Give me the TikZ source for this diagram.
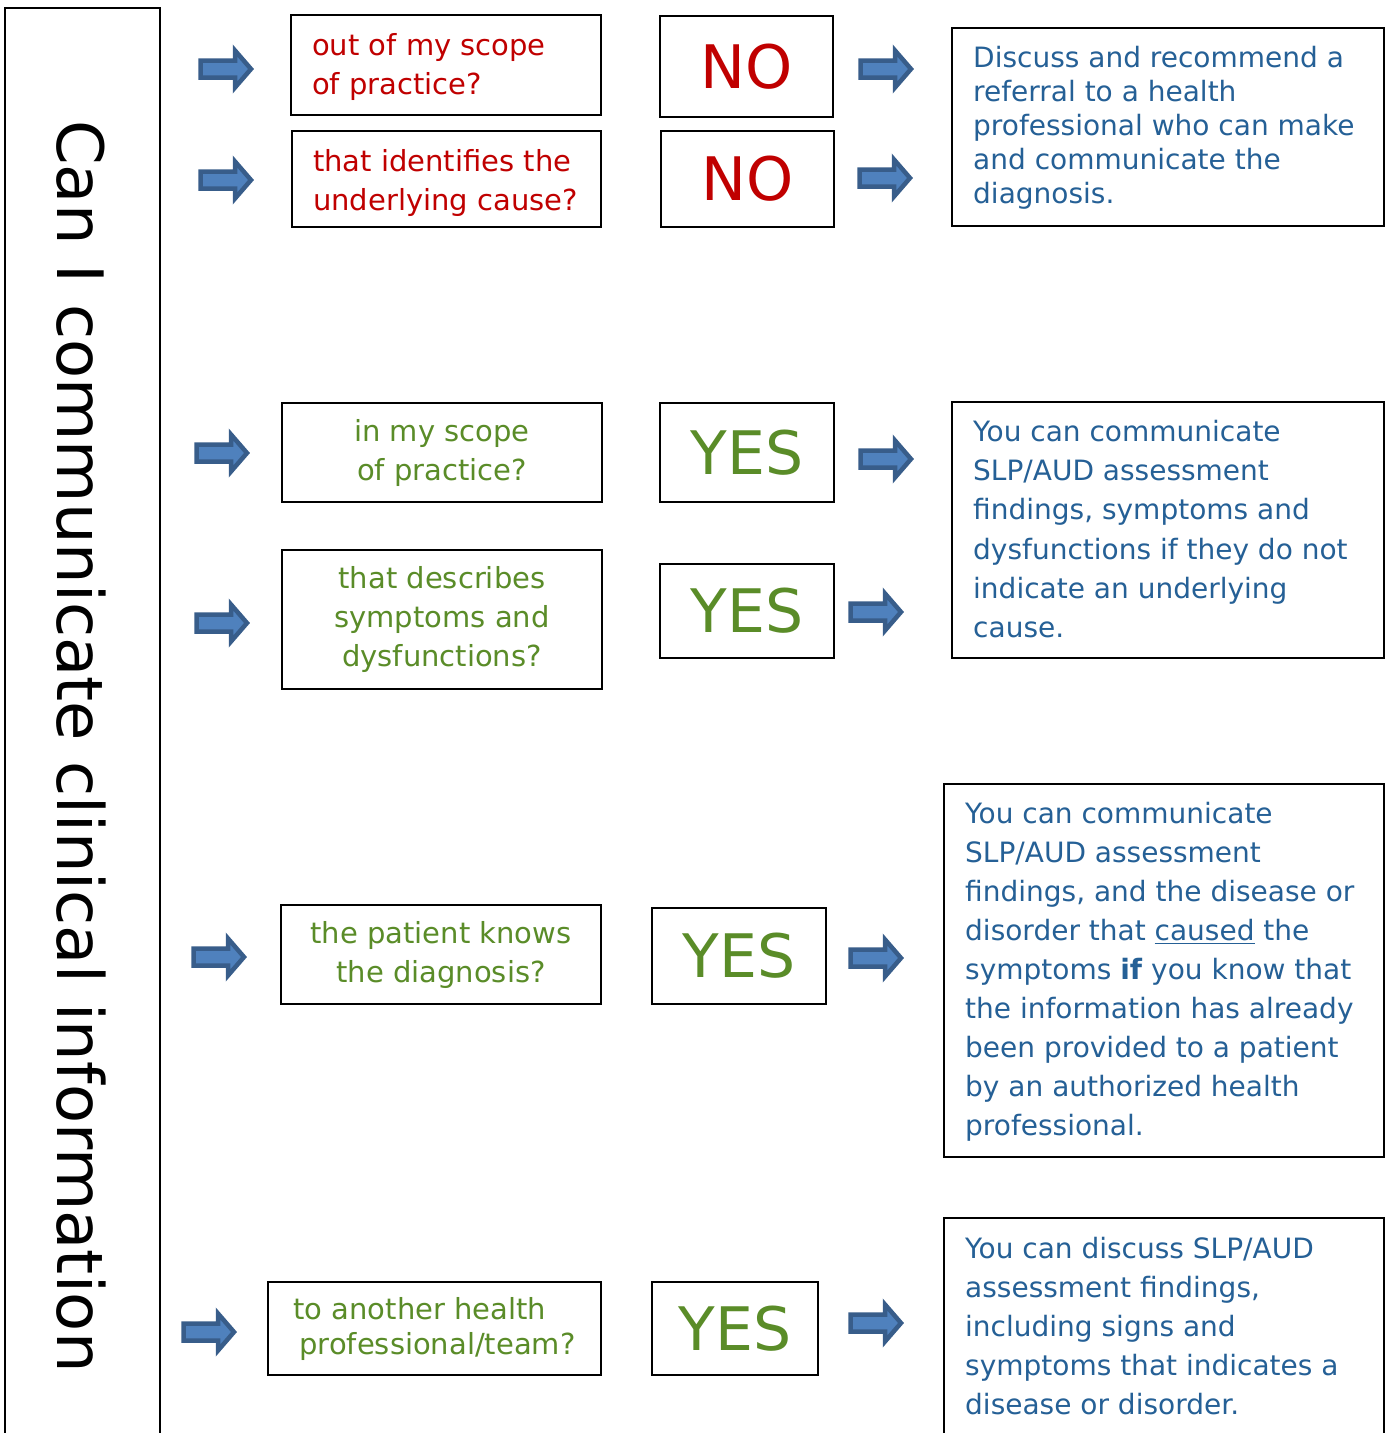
\documentclass[tikz,border=0pt]{standalone}
\usepackage{fontspec}
\setmainfont{DejaVu Sans}
\definecolor{qred}{HTML}{C00000}
\definecolor{qgreen}{HTML}{5A8C28}
\definecolor{tblue}{HTML}{256096}
\definecolor{arrfill}{HTML}{4F81BD}
\definecolor{arrline}{HTML}{385D8A}
\newcommand\myul[1]{\setbox0\hbox{#1}\rlap{\rule[-4pt]{\wd0}{1.8pt}}\box0\relax}
\begin{document}
\begin{tikzpicture}[x=1pt,y=-1pt,
  box/.style={draw=black, line width=2pt, inner sep=0pt},
  qtext/.style={inner sep=0pt, align=left, font=\fontsize{29}{39}\selectfont},
  gbox/.style={box, text=qgreen, align=center, font=\fontsize{29}{39}\selectfont},
  ansbox/.style={box, font=\fontsize{60}{60}\selectfont},
  rtext/.style={inner sep=0pt, align=left, text=tblue, anchor=north west},
  arrowline/.style={draw=arrline, fill=arrfill, line width=4.5pt, line join=miter},
  barrow/.pic={\path[arrowline] (2.5,-8.5) -- (37,-8.5) -- (37,-18.5) -- (53,0) -- (37,18.5) -- (37,8.5) -- (2.5,8.5) -- cycle;}
]
\useasboundingbox (0,0) rectangle (1387,1433);
\clip (0,0) rectangle (1387,1433);
\fill[white] (0,0) rectangle (1387,1433);

% title column
\node[box, minimum width=155, minimum height=1452] (tb) at (82.5,734) {};
\node[rotate=-90, anchor=base west, inner sep=0pt, font=\fontsize{64}{64}\selectfont] (title) at (57,120) {Can I communicate clinical information};

% questions
\node[box, minimum width=310, minimum height=100] (q1) at (446,65) {};
\node[qtext, text=qred, anchor=north west] (q1t) at (312,33) {out of my scope\\of practice?};
\node[box, minimum width=309, minimum height=96] (q2) at (446.5,179) {};
\node[qtext, text=qred, anchor=north west] (q2t) at (313,149) {that identifies the\\underlying cause?};
\node[gbox, minimum width=320, minimum height=99] (q3) at (442,452.5) {in my scope\\of practice?};
\node[gbox, minimum width=320, minimum height=139] (q4) at (442,619.5) {that describes\\symptoms and\\dysfunctions?};
\node[gbox, minimum width=320, minimum height=99] (q5) at (441,954.5) {the patient knows\\the diagnosis?};
\node[gbox, align=left, font=\fontsize{29}{35}\selectfont, minimum width=333, minimum height=93] (q6) at (434.5,1328.5) {to another health\\\hspace*{6pt}professional/team?};

% answers
\node[ansbox, text=qred, minimum width=173, minimum height=101] (a1) at (746.5,66.5) {NO};
\node[ansbox, text=qred, minimum width=173, minimum height=96] (a2) at (747.5,179) {NO};
\node[ansbox, text=qgreen, minimum width=174, minimum height=99] (a3) at (747,452.5) {YES};
\node[ansbox, text=qgreen, minimum width=174, minimum height=94] (a4) at (747,611) {YES};
\node[ansbox, text=qgreen, minimum width=174, minimum height=96] (a5) at (739,956) {YES};
\node[ansbox, text=qgreen, minimum width=166, minimum height=93] (a6) at (735,1328.5) {YES};

% results
\node[box, minimum width=432, minimum height=198] (r1) at (1168,127) {};
\node[rtext, font=\fontsize{28}{34}\selectfont] (r1t) at (973,46) {Discuss and recommend a\\referral to a health\\professional who can make\\and communicate the\\diagnosis.};
\node[box, minimum width=432, minimum height=256] (r2) at (1168,530) {};
\node[rtext, font=\fontsize{28}{39.2}\selectfont] (r2t) at (973,420) {You can communicate\\SLP/AUD assessment\\findings, symptoms and\\dysfunctions if they do not\\indicate an underlying\\cause.};
\node[box, minimum width=440, minimum height=373] (r3) at (1164,970.5) {};
\node[rtext, font=\fontsize{28}{39}\selectfont] (r3t) at (965,802) {You can communicate\\SLP/AUD assessment\\findings, and the disease or\\disorder that \myul{caused} the\\symptoms \textbf{if} you know that\\the information has already\\been provided to a patient\\by an authorized health\\professional.};
\node[box, minimum width=440, minimum height=260] (r4) at (1164,1348) {};
\node[rtext, font=\fontsize{28}{39}\selectfont] (r4t) at (965,1237) {You can discuss SLP/AUD\\assessment findings,\\including signs and\\symptoms that indicates a\\disease or disorder.};

% block arrows
\pic (la1) at (198,69) {barrow};
\pic (la2) at (198,180) {barrow};
\pic (la3) at (194,453) {barrow};
\pic (la4) at (194,623) {barrow};
\pic (la5) at (191,957) {barrow};
\pic (la6) at (181,1332) {barrow};
\pic (ra1) at (858,69) {barrow};
\pic (ra2) at (857,178) {barrow};
\pic (ra3) at (858,459) {barrow};
\pic (ra4) at (848,612) {barrow};
\pic (ra5) at (848,958) {barrow};
\pic (ra6) at (848,1323) {barrow};
\end{tikzpicture}
\end{document}
